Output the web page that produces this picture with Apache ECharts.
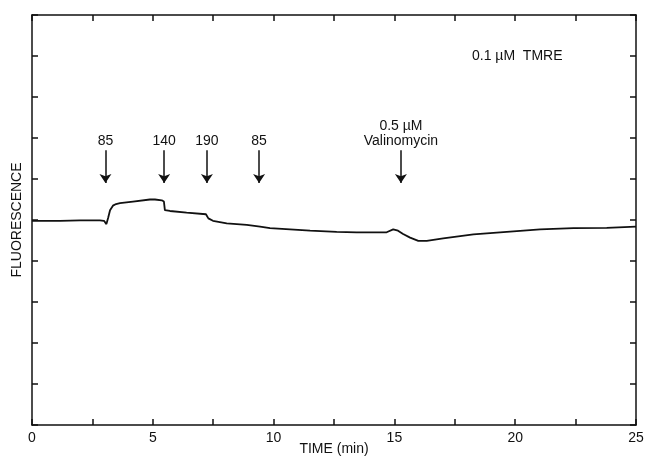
<!DOCTYPE html>
<html>
<head>
<meta charset="utf-8">
<script src="https://cdn.jsdelivr.net/npm/echarts@6/dist/echarts.min.js"></script>
<style>
  html, body { margin: 0; padding: 0; background: #fff; }
  #chart { width: 645px; height: 457px; }
</style>
</head>
<body>
<div id="chart"></div>
<script>
// fluorescence trace (time in min, arbitrary units 0-10)
const times = [0, 1.16, 1.99, 2.81, 2.98, 3.08, 3.15, 3.23, 3.35, 3.48, 3.64, 4.18, 4.88, 5.09, 5.37, 5.46,
  5.50, 5.71, 6.40, 7.20, 7.30, 7.49, 8.06, 8.89, 9.44, 9.85, 10.68, 11.51, 12.61, 13.44, 14.68,
  14.95, 15.15, 15.36, 15.65, 15.99, 16.34, 17.02, 18.27, 19.65, 21.03, 22.41, 23.79, 25.0];
const fluorescence = [4.98, 4.98, 4.99, 4.99, 4.98, 4.90, 5.05, 5.24, 5.35, 5.39, 5.41, 5.45, 5.50, 5.50, 5.48, 5.45,
  5.24, 5.22, 5.18, 5.14, 5.04, 4.98, 4.92, 4.88, 4.84, 4.80, 4.77, 4.74, 4.71, 4.70, 4.70,
  4.77, 4.74, 4.66, 4.57, 4.49, 4.49, 4.55, 4.65, 4.71, 4.77, 4.80, 4.81, 4.84];

// additions marked with arrows
const arrowTimes = [3.04, 5.47, 7.24, 9.4, 15.27];
const arrowLabels = ['85', '140', '190', '85', '0.5 \u00b5M\nValinomycin'];
const arrowTop = 6.7;
const arrowTip = 5.9;

const xTicks = [0, 5, 10, 15, 20, 25];

const chart = echarts.init(document.getElementById('chart'));
const ink = '#111';
const font = 'Liberation Sans';

const axisLine = { show: true, onZero: false, lineStyle: { color: ink, width: 1.5 } };
const tickIn = (len) => ({ show: true, inside: true, length: len, lineStyle: { color: ink, width: 1.5 } });

const option = {
  animation: false,
  grid: { left: 32, right: 9, top: 15, bottom: 32, outerBoundsMode: 'none' },
  xAxis: [
    {
      type: 'value', min: 0, max: 25, interval: 2.5,
      name: 'TIME (min)', nameLocation: 'middle', nameGap: 17, nameMoveOverlap: false,
      nameTextStyle: { color: ink, fontFamily: font, fontSize: 14 },
      axisLine: axisLine, axisTick: tickIn(6), splitLine: { show: false },
      axisLabel: {
        color: ink, fontFamily: font, fontSize: 14, margin: 6,
        formatter: v => xTicks.indexOf(v) >= 0 ? String(v) : ''
      }
    },
    {
      type: 'value', position: 'top', min: 0, max: 25, interval: 2.5,
      axisLine: axisLine, axisTick: tickIn(6), axisLabel: { show: false }, splitLine: { show: false }
    }
  ],
  yAxis: [
    {
      type: 'value', min: 0, max: 10, interval: 1,
      name: 'FLUORESCENCE', nameLocation: 'middle', nameGap: 8, nameRotate: 90, nameMoveOverlap: false,
      nameTextStyle: { color: ink, fontFamily: font, fontSize: 14 },
      axisLine: axisLine, axisTick: tickIn(6), axisLabel: { show: false }, splitLine: { show: false }
    },
    {
      type: 'value', position: 'right', min: 0, max: 10, interval: 1,
      axisLine: axisLine, axisTick: tickIn(6), axisLabel: { show: false }, splitLine: { show: false }
    }
  ],
  graphic: [
    {
      type: 'text', left: 472, top: 49,
      style: { text: '0.1 \u00b5M  TMRE', fill: ink, font: '14px "Liberation Sans"' }
    }
  ],
  series: [
    {
      type: 'line',
      data: times.map((t, i) => [t, fluorescence[i]]),
      showSymbol: false,
      lineStyle: { color: ink, width: 1.8 },
      markLine: {
        silent: true,
        symbol: ['none', 'arrow'],
        symbolSize: 9,
        lineStyle: { color: ink, width: 1.5, type: 'solid' },
        label: {
          show: true, position: 'start', distance: 2,
          color: ink, fontFamily: font, fontSize: 14, lineHeight: 15, align: 'center'
        },
        data: arrowTimes.map((t, i) => [
          { coord: [t, arrowTop], label: { formatter: arrowLabels[i] } },
          { coord: [t, arrowTip] }
        ])
      }
    }
  ]
};

chart.setOption(option);
</script>
</body>
</html>
